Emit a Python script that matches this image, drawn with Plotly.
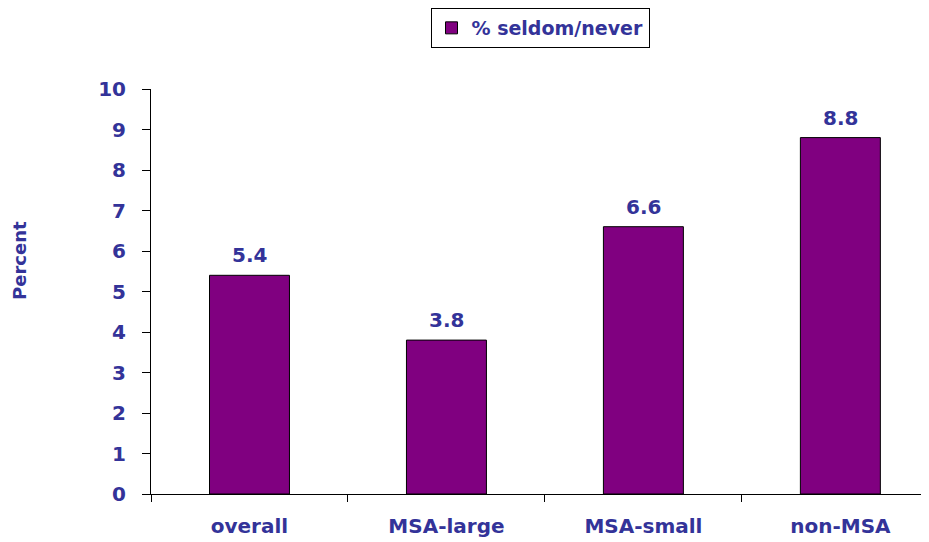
import plotly.graph_objects as go

categories = ["overall", "MSA-large", "MSA-small", "non-MSA"]
values = [5.4, 3.8, 6.6, 8.8]
series_name = "% seldom/never"
y_ticks = list(range(0, 11))

TXT = "#333399"
FONT = "DejaVu Sans"
OFF = 8  # page body margin
W, H = 929 - OFF, 542 - OFF
L, R, T, B = 151 - OFF, 0, 89 - OFF, 48
PW, PH = W - L - R, H - T - B

fig = go.Figure()
fig.add_trace(go.Bar(
    x=categories, y=values, name=series_name,
    marker=dict(color="#800080", line=dict(color="#000000", width=1)),
    width=0.406,
))

for c, v in zip(categories, values):
    fig.add_annotation(
        x=c, y=v, xref="x", yref="y", text=f"{v:.1f}", showarrow=False,
        yanchor="bottom", yshift=6,
        font=dict(family=FONT, size=20, color=TXT, weight="bold"),
    )

fig.update_layout(
    width=W, height=H,
    margin=dict(l=L, r=R, t=T, b=B, autoexpand=False),
    paper_bgcolor="white", plot_bgcolor="white",
    font=dict(family=FONT, size=20, color=TXT, weight="bold"),
    showlegend=True,
    legend=dict(
        x=(540 - 151) / PW, y=1.0, xref="paper", yref="container",
        xanchor="center", yanchor="top",
        orientation="h", bordercolor="black", borderwidth=1, bgcolor="white",
        font=dict(family=FONT, size=19, color=TXT, weight="bold"),
        itemwidth=30, tracegroupgap=0,
    ),
)

fig.update_xaxes(
    range=[-0.5, 3.45], showline=True, linecolor="black", linewidth=1,
    ticks="outside", tickson="boundaries", ticklen=7, tickcolor="black",
    ticklabelstandoff=14, showgrid=False, zeroline=False, automargin=False,
    tickfont=dict(family=FONT, size=20, color=TXT, weight="bold"),
)
fig.update_yaxes(
    range=[0, 10], tickvals=y_ticks, showline=True, linecolor="black", linewidth=1,
    ticks="outside", ticklen=8, tickcolor="black", showgrid=False, zeroline=False,
    ticklabelstandoff=12, automargin=False,
    tickfont=dict(family=FONT, size=20, color=TXT, weight="bold"),
)

fig.add_annotation(
    text="Percent", textangle=-90,
    x=(19 - 151) / PW, y=(494 - 261) / PH, xref="paper", yref="paper",
    xanchor="center", yanchor="middle",
    showarrow=False, font=dict(family=FONT, size=18, color=TXT, weight="bold"),
)

fig.write_html("out.html")
